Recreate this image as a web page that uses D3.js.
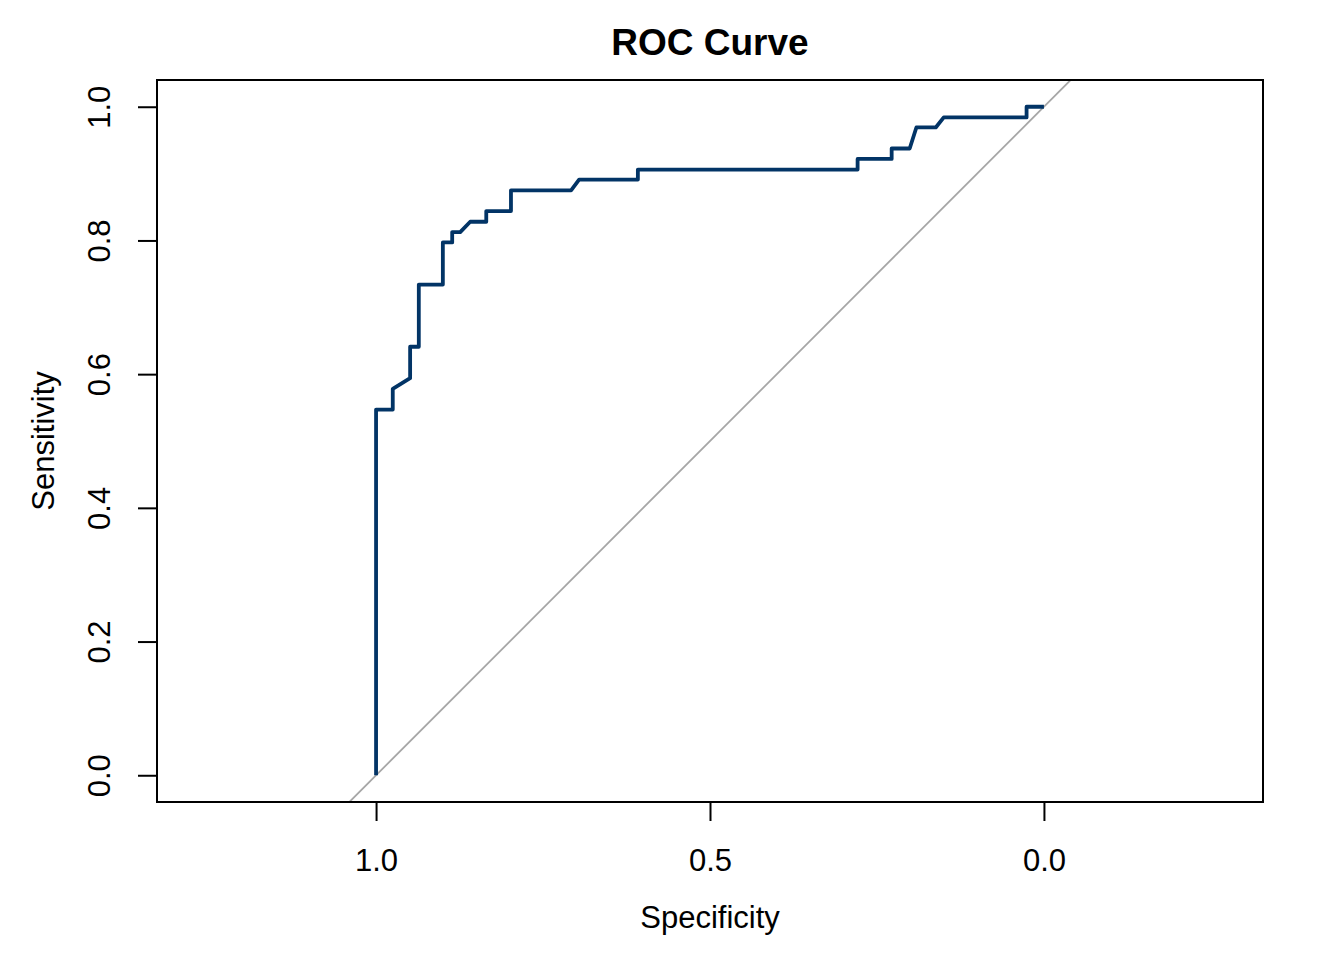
<!DOCTYPE html>
<html>
<head>
<meta charset="utf-8">
<script src="https://cdn.jsdelivr.net/npm/d3@7"></script>
<style>
  body { margin: 0; background: #fff; }
  svg { display: block; font-family: "Liberation Sans", Arial, sans-serif; }
</style>
</head>
<body>
<div id="chart"></div>
<script>
// ROC points (specificity runs 1 -> 0)
const specificity = [1, 1, 0.975, 0.975, 0.949, 0.949, 0.936, 0.936, 0.900, 0.900, 0.886, 0.886,
  0.874, 0.859, 0.835, 0.835, 0.798, 0.798, 0.708, 0.696, 0.608, 0.608, 0.279, 0.279,
  0.228, 0.228, 0.201, 0.191, 0.162, 0.150, 0.026, 0.026, 0];
const sensitivity = [0, 0.547, 0.547, 0.578, 0.594, 0.641, 0.641, 0.734, 0.734, 0.797, 0.797, 0.8125,
  0.8125, 0.828, 0.828, 0.844, 0.844, 0.875, 0.875, 0.891, 0.891, 0.906, 0.906, 0.922,
  0.922, 0.9375, 0.9375, 0.969, 0.969, 0.984, 0.984, 1.0, 1.0];
const xTicks = [1.0, 0.5, 0.0];
const yTicks = [0.0, 0.2, 0.4, 0.6, 0.8, 1.0];

const width = 1344, height = 960;
const box = { left: 157, right: 1263, top: 80, bottom: 802 };
const fontFamily = "'Liberation Sans', Arial, sans-serif";

const x = d3.scaleLinear().domain([1.328, -0.328]).range([box.left, box.right]);
const y = d3.scaleLinear().domain([-0.04, 1.04]).range([box.bottom, box.top]);

const svg = d3.select("#chart").append("svg")
    .attr("width", width)
    .attr("height", height)
    .attr("viewBox", [0, 0, width, height]);

svg.append("defs").append("clipPath")
    .attr("id", "plot-clip")
    .append("rect")
    .attr("x", box.left).attr("y", box.top)
    .attr("width", box.right - box.left).attr("height", box.bottom - box.top);

// chance line (sens = 1 - spec), clipped to the box
svg.append("line")
    .attr("clip-path", "url(#plot-clip)")
    .attr("x1", x(1.1)).attr("y1", y(-0.1))
    .attr("x2", x(-0.1)).attr("y2", y(1.1))
    .attr("stroke", "#a6a6a6")
    .attr("stroke-width", 1.8);

const points = specificity.map((s, i) => [s, sensitivity[i]]);

svg.append("path")
    .datum(points)
    .attr("fill", "none")
    .attr("stroke", "#023466")
    .attr("stroke-width", 3.8)
    .attr("stroke-linejoin", "round")
    .attr("d", d3.line().x(d => x(d[0])).y(d => y(d[1])));

// box
svg.append("rect")
    .attr("x", box.left).attr("y", box.top)
    .attr("width", box.right - box.left).attr("height", box.bottom - box.top)
    .attr("fill", "none")
    .attr("stroke", "#000")
    .attr("stroke-width", 2);

// x axis, R style
const xAxis = svg.append("g")
    .attr("transform", `translate(0,${box.bottom})`)
    .call(d3.axisBottom(x).tickValues(xTicks).tickFormat(d3.format(".1f")).tickSize(19).tickPadding(0));
xAxis.select(".domain").attr("d", `M${x(1)},0H${x(0)}`).attr("stroke-width", 2);
xAxis.selectAll(".tick line").attr("stroke-width", 2);
xAxis.selectAll("text")
    .attr("font-size", 31).attr("fill", "#000")
    .attr("font-family", fontFamily)
    .attr("dy", 0).attr("y", 69);

// y axis, labels turned
const yAxis = svg.append("g")
    .attr("transform", `translate(${box.left},0)`)
    .call(d3.axisLeft(y).tickValues(yTicks).tickFormat(d3.format(".1f")).tickSize(19));
yAxis.select(".domain").attr("d", `M0,${y(0)}V${y(1)}`).attr("stroke-width", 2);
yAxis.selectAll(".tick line").attr("stroke-width", 2);
yAxis.selectAll("text")
    .attr("font-size", 31).attr("fill", "#000")
    .attr("font-family", fontFamily)
    .attr("x", 0).attr("dy", 0).attr("y", 0)
    .attr("text-anchor", "middle")
    .attr("transform", "translate(-47,0) rotate(-90)");

svg.append("text")
    .attr("x", (box.left + box.right) / 2)
    .attr("y", 55)
    .attr("text-anchor", "middle")
    .attr("font-size", 37)
    .attr("font-weight", "bold")
    .text("ROC Curve");

svg.append("text")
    .attr("x", (box.left + box.right) / 2)
    .attr("y", 928)
    .attr("text-anchor", "middle")
    .attr("font-size", 31)
    .text("Specificity");

svg.append("text")
    .attr("transform", `translate(53.5,${(box.top + box.bottom) / 2}) rotate(-90)`)
    .attr("text-anchor", "middle")
    .attr("font-size", 31)
    .text("Sensitivity");
</script>
</body>
</html>
